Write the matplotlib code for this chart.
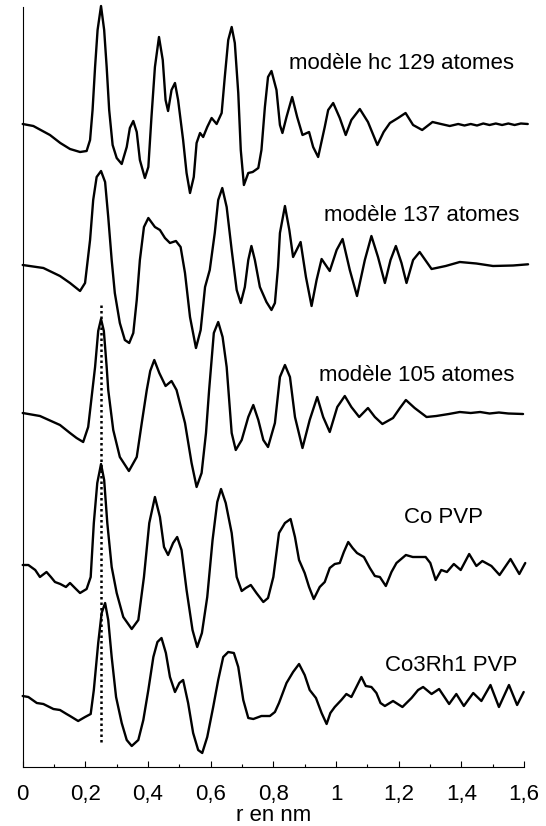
import matplotlib
matplotlib.use("Agg")
from matplotlib import pyplot as plt
from matplotlib.ticker import MultipleLocator

# curves: r (nm) and amplitude relative to each curve's own baseline
r_hc129 = [0, 0.034, 0.087, 0.12, 0.151, 0.183, 0.204, 0.215, 0.223, 0.231, 0.239, 0.25, 0.26, 0.268, 0.276,
           0.287, 0.3, 0.316, 0.332, 0.342, 0.353, 0.364, 0.374, 0.39, 0.401, 0.411, 0.422, 0.435, 0.447, 0.456,
           0.464, 0.475, 0.486, 0.496, 0.512, 0.523, 0.534, 0.546, 0.555, 0.566, 0.576, 0.589, 0.603, 0.619, 0.635,
           0.645, 0.656, 0.667, 0.677, 0.688, 0.696, 0.706, 0.72, 0.734, 0.752, 0.762, 0.773, 0.783, 0.794, 0.81,
           0.821, 0.829, 0.842, 0.86, 0.876, 0.893, 0.914, 0.927, 0.943, 0.964, 0.975, 0.991, 1.012, 1.031, 1.049,
           1.076, 1.102, 1.132, 1.152, 1.172, 1.198, 1.222, 1.246, 1.275, 1.308, 1.335, 1.363, 1.39, 1.41, 1.43,
           1.45, 1.47, 1.49, 1.51, 1.53, 1.55, 1.57, 1.59, 1.612]
a_hc129 = [0, -2, -11, -19, -25, -28, -27, -16, 14, 57, 94, 118, 94, 57, 14,
           -21, -34, -40, -23, -4, 3, -8, -36, -54, -43, 7, 57, 87, 64, 24,
           13, 34, 41, 24, -16, -49, -69, -53, -19, -9, -13, -3, 6, 0, 11,
           47, 84, 97, 81, 31, -26, -61, -49, -48, -44, -26, 17, 47, 53, 34,
           -1, -9, 7, 27, 7, -11, -8, -23, -33, -3, 14, 21, 6, -11, 4,
           15, 2, -21, -8, 1, 6, 11, -1, -6, 2, 0, -2, 0, -1.5, 0,
           -1.5, 0.5, -1, 0.5, -1, 0.5, -1, 0.5, 0]

r_137 = [0, 0.066, 0.119, 0.151, 0.183, 0.199, 0.215, 0.225, 0.236, 0.25, 0.263, 0.273, 0.284, 0.294, 0.31,
         0.326, 0.34, 0.353, 0.364, 0.374, 0.387, 0.401, 0.422, 0.438, 0.454, 0.47, 0.489, 0.504, 0.518, 0.534,
         0.553, 0.568, 0.582, 0.597, 0.613, 0.624, 0.637, 0.651, 0.667, 0.683, 0.696, 0.709, 0.72, 0.73, 0.741,
         0.757, 0.778, 0.794, 0.805, 0.815, 0.821, 0.837, 0.851, 0.863, 0.887, 0.904, 0.922, 0.938, 0.954, 0.98,
         1.002, 1.021, 1.044, 1.067, 1.092, 1.113, 1.134, 1.156, 1.174, 1.191, 1.209, 1.225, 1.246, 1.267, 1.305,
         1.35, 1.395, 1.448, 1.501, 1.565, 1.613]
a_137 = [0, -3, -11, -18, -26, -18, 25, 65, 88, 94, 83, 48, 5, -28, -58,
         -75, -78, -68, -35, 5, 38, 47, 38, 35, 27, 22, 24, 18, -8, -52,
         -83, -65, -22, -5, 32, 65, 77, 58, 15, -25, -38, -22, 5, 19, 5,
         -22, -37, -45, -38, -2, 32, 59, 35, 8, 23, -12, -41, -15, 6, -6,
         15, 26, -5, -31, 5, 29, 8, -18, 5, 19, 2, -18, 5, 13, -4,
         -1, 3, 1.5, -1, -0.5, 0.7]

r_105 = [0, 0.055, 0.119, 0.151, 0.172, 0.193, 0.209, 0.22, 0.231, 0.241, 0.25, 0.259, 0.268, 0.273, 0.289,
         0.31, 0.339, 0.364, 0.38, 0.396, 0.407, 0.42, 0.436, 0.456, 0.475, 0.491, 0.518, 0.539, 0.555, 0.571,
         0.585, 0.595, 0.61, 0.624, 0.638, 0.651, 0.667, 0.68, 0.699, 0.72, 0.736, 0.752, 0.768, 0.783, 0.805,
         0.821, 0.837, 0.853, 0.869, 0.893, 0.916, 0.94, 0.959, 0.98, 1.004, 1.028, 1.049, 1.074, 1.102, 1.124,
         1.148, 1.182, 1.204, 1.223, 1.251, 1.289, 1.32, 1.36, 1.395, 1.43, 1.46, 1.49, 1.52, 1.55, 1.597]
a_105 = [0, -3, -12, -20, -25, -29, -14, 16, 46, 82, 94, 82, 46, 23, -17,
         -44, -58, -44, -10, 23, 42, 53, 40, 27, 32, 23, -10, -50, -74, -60,
         -20, 23, 80, 91, 76, 46, -20, -37, -27, -4, 8, -7, -27, -34, -10,
         36, 48, 36, -4, -35, -7, 16, -4, -19, 6, 17, 6, -4, 5, -4,
         -11, -5, 5, 13, 5, -4, -3, -1, 1, 0, 1, -0.5, 0.5, -0.5, -1]

r_copvp = [0, 0.018, 0.04, 0.055, 0.076, 0.09, 0.103, 0.12, 0.138, 0.151, 0.17, 0.183, 0.204, 0.217, 0.227,
           0.238, 0.25, 0.26, 0.27, 0.284, 0.3, 0.321, 0.348, 0.369, 0.387, 0.404, 0.422, 0.438, 0.451, 0.464,
           0.48, 0.493, 0.507, 0.523, 0.542, 0.557, 0.572, 0.589, 0.606, 0.621, 0.633, 0.648, 0.667, 0.683, 0.699,
           0.712, 0.728, 0.746, 0.768, 0.783, 0.8, 0.818, 0.837, 0.855, 0.869, 0.882, 0.9, 0.914, 0.929, 0.948,
           0.964, 0.98, 0.996, 1.012, 1.025, 1.039, 1.053, 1.067, 1.089, 1.108, 1.124, 1.14, 1.159, 1.177, 1.193,
           1.223, 1.245, 1.286, 1.301, 1.318, 1.336, 1.354, 1.376, 1.398, 1.425, 1.448, 1.467, 1.496, 1.522, 1.557,
           1.585, 1.604]
a_copvp = [0, 0, -5, -12, -7, -12, -17, -19, -22, -18, -24, -28, -24, -12, 42,
           82, 101, 85, 42, -2, -28, -52, -64, -55, -12, 42, 68, 48, 18, 10,
           22, 28, 15, -25, -65, -82, -68, -32, 25, 63, 76, 62, 32, -12, -26,
           -23, -20, -28, -37, -33, -12, 32, 42, 46, 28, 5, -8, -22, -34, -22,
           -17, -3, 1, 2, 13, 23, 17, 12, 8, -3, -11, -12, -21, -7, 2,
           10, 8, 8, 2, -15, -5, -7, 1, -5, 11, -1, 4, -1, -10, 6,
           -9, 2]

r_co3rh1 = [0, 0.018, 0.045, 0.066, 0.098, 0.119, 0.14, 0.151, 0.177, 0.199, 0.217, 0.227, 0.241, 0.252, 0.263,
            0.273, 0.284, 0.298, 0.316, 0.332, 0.348, 0.369, 0.385, 0.401, 0.417, 0.43, 0.443, 0.457, 0.47, 0.486,
            0.5, 0.512, 0.528, 0.544, 0.56, 0.573, 0.589, 0.608, 0.624, 0.64, 0.656, 0.674, 0.688, 0.704, 0.72,
            0.736, 0.762, 0.789, 0.805, 0.818, 0.842, 0.863, 0.882, 0.9, 0.916, 0.936, 0.954, 0.97, 0.982, 0.996,
            1.017, 1.033, 1.049, 1.065, 1.081, 1.095, 1.113, 1.129, 1.142, 1.156, 1.182, 1.212, 1.241, 1.262, 1.278,
            1.305, 1.329, 1.361, 1.384, 1.408, 1.438, 1.464, 1.493, 1.52, 1.552, 1.578, 1.599]
a_co3rh1 = [0, -1, -7, -8, -13, -14, -18, -20, -25, -21, -18, 6, 53, 83, 93,
            76, 39, -1, -27, -44, -50, -44, -24, 6, 39, 54, 58, 43, 19, 4,
            13, 16, -7, -37, -54, -57, -41, -11, 16, 39, 44, 43, 29, -4, -22,
            -23, -20, -20, -16, -7, 13, 24, 32, 21, 6, -2, -17, -28, -17, -11,
            -4, 2, -1, 9, 19, 10, 9, 3, -7, -10, -5, -11, -2, 6, 9,
            2, 7, -8, 2, -10, 3, -5, 11, -11, 11, -9, 4]

labels = ["modèle hc 129 atomes", "modèle 137 atomes", "modèle 105 atomes", "Co PVP", "Co3Rh1 PVP"]
xticks = [0, 0.2, 0.4, 0.6, 0.8, 1.0, 1.2, 1.4, 1.6]
xticklabels = ["0", "0,2", "0,4", "0,6", "0,8", "1", "1,2", "1,4", "1,6"]

curves = [(r_hc129, a_hc129), (r_137, a_137), (r_105, a_105), (r_copvp, a_copvp), (r_co3rh1, a_co3rh1)]
offsets = [643, 502, 354, 202, 71]
label_pos = [(1.209, 697.7), (1.273, 546.3), (1.256, 386.3), (1.342, 243.7), (1.367, 96.3)]

plt.rcParams['font.family'] = ['Liberation Sans', 'DejaVu Sans']

fig = plt.figure(figsize=(5.46, 8.26), dpi=100)
ax = fig.add_axes([22.7/546, 1-767/826, (524-22.7)/546, (767-4)/826])

for (r, a), off, lab, (tx, ty) in zip(curves, offsets, labels, label_pos):
	ax.plot(r, [v + off for v in a], color='black', linewidth=1.7, clip_on=False,
		solid_joinstyle='round', solid_capstyle='round')
	ax.text(tx, ty, lab, ha='center', va='baseline', fontsize=16)

# reference line at the first neighbour distance
ax.plot([0.25, 0.25], [25, 462], color='black', linestyle=(0, (1, 1.2)), linewidth=1.8)

ax.set_xlim(0, 1.6)
ax.set_ylim(0, 763)
ax.set_xticks(xticks)
ax.set_xticklabels(xticklabels, fontsize=16)
ax.xaxis.set_minor_locator(MultipleLocator(0.1))
ax.tick_params(axis='x', which='major', direction='in', length=4, width=0.8, pad=12)
ax.tick_params(axis='x', which='minor', direction='in', length=2.5, width=0.8)
ax.set_yticks([])
ax.spines['top'].set_visible(False)
ax.spines['right'].set_visible(False)
ax.spines['left'].set_bounds(0, 760)
ax.spines['left'].set_linewidth(0.8)
ax.spines['bottom'].set_linewidth(0.8)
ax.set_xlabel('r en nm', fontsize=16, labelpad=0.5)

fig.savefig('out.png', dpi=100)
